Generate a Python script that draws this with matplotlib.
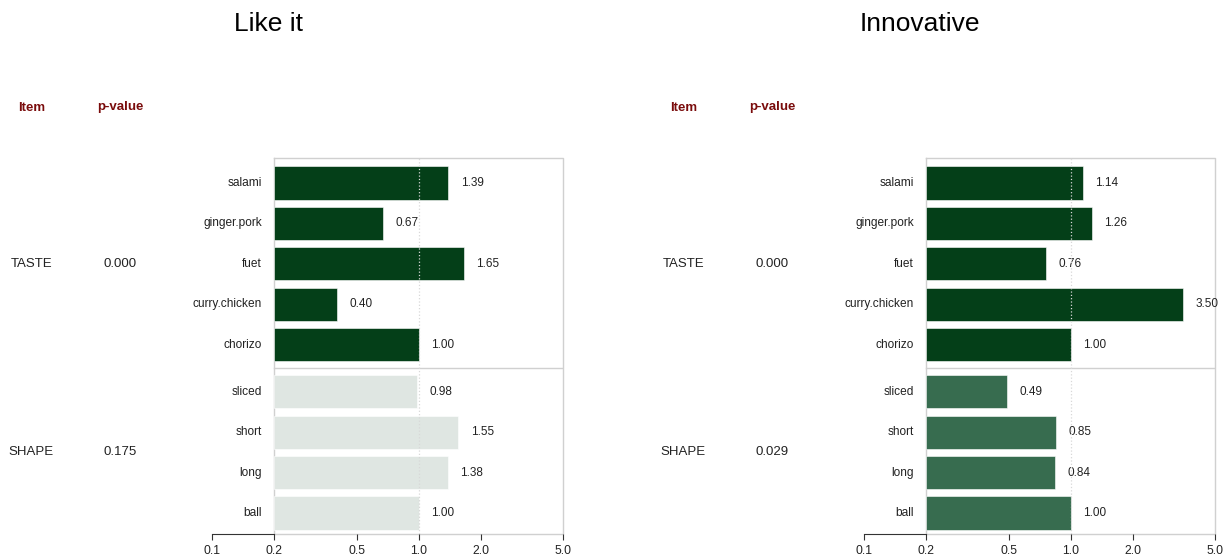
import matplotlib
matplotlib.use("Agg")
import matplotlib.pyplot as plt
from matplotlib.transforms import blended_transform_factory

plt.rcParams['font.family'] = ['Liberation Sans', 'DejaVu Sans']

# items per attribute group
groups = ['TASTE', 'SHAPE']
taste_items = ['salami', 'ginger.pork', 'fuet', 'curry.chicken', 'chorizo']
shape_items = ['sliced', 'short', 'long', 'ball']

# odds ratios, one panel per response
like_taste = [1.39, 0.67, 1.65, 0.40, 1.00]
like_shape = [0.98, 1.55, 1.38, 1.00]
innov_taste = [1.14, 1.26, 0.76, 3.50, 1.00]
innov_shape = [0.49, 0.85, 0.84, 1.00]

like_p = ['0.000', '0.175']
innov_p = ['0.000', '0.029']

xticks = [0.1, 0.2, 0.5, 1.0, 2.0, 5.0]

W, H = 1227, 558
DARK = '#043f18'
MID = '#376c4f'
LIGHT = '#dfe6e2'
RED = '#7a0c0c'
TXT = '#222222'
BOX = '#d0d0d0'

fig = plt.figure(figsize=(W / 100, H / 100), dpi=100)


def panel(x0, title, taste, shape, pvals, colors):
    # x0 = pixel position of 0.1 on the log axis
    ax = fig.add_axes([x0 / W, (H - 534) / H, 351 / W, 376 / H])
    gap = 0.17
    y_t = list(range(len(taste)))
    y_s = [len(taste) + gap + j for j in range(len(shape))]
    sep = len(taste) - 0.5 + gap / 2
    ytop, ybot = -0.62, y_s[-1] + 0.52

    for ys, vals, col in [(y_t, taste, colors[0]), (y_s, shape, colors[1])]:
        ax.barh(ys, [v - 0.2 for v in vals], left=0.2, height=0.82,
                color=col, edgecolor='white', linewidth=0.4, zorder=2)
        for y, v in zip(ys, vals):
            ax.annotate(f'{v:.2f}', (v, y), xytext=(9, 0), textcoords='offset points',
                        va='center', ha='left', fontsize=8.5, color=TXT)

    # item names sit just left of the bar origin
    for y, name in zip(y_t + y_s, taste_items + shape_items):
        ax.annotate(name, (0.2, y), xytext=(-9, 0), textcoords='offset points',
                    va='center', ha='right', fontsize=8.6, color=TXT)

    ax.set_xscale('log')
    ax.set_xlim(0.1, 5.0)
    ax.set_ylim(ybot, ytop)

    # frame around the bars, starting at 0.2
    ax.plot([0.2, 5.0, 5.0, 0.2, 0.2], [ytop, ytop, ybot, ybot, ytop],
            color=BOX, lw=1, clip_on=False, zorder=1)
    ax.plot([0.2, 5.0], [sep, sep], color=BOX, lw=1, zorder=1)
    ax.axvline(1.0, color='#d8d8d8', ls=':', lw=0.9, zorder=3)

    for s in ['top', 'right', 'left']:
        ax.spines[s].set_visible(False)
    ax.spines['bottom'].set_bounds(0.1, 0.2)
    ax.spines['bottom'].set_color('#333333')
    ax.set_xticks(xticks)
    ax.set_xticklabels([f'{t:.1f}' for t in xticks])
    ax.xaxis.set_minor_locator(matplotlib.ticker.NullLocator())
    ax.tick_params(axis='x', direction='out', length=4, color='#333333',
                   labelsize=8.8, labelcolor=TXT, pad=4)
    ax.set_yticks([])
    ax.set_facecolor('none')

    # group names and p-values to the left
    item_x = x0 - 181
    p_x = x0 - 92
    tr = blended_transform_factory(fig.transFigure, ax.transData)
    for g, ys, p in [(groups[0], y_t, pvals[0]), (groups[1], y_s, pvals[1])]:
        ym = sum(ys) / len(ys)
        ax.text(item_x / W, ym, g, transform=tr, ha='center', va='center',
                fontsize=9.5, color=TXT)
        ax.text(p_x / W, ym, p, transform=tr, ha='center', va='center',
                fontsize=9.5, color=TXT)

    fig.text(item_x / W, 1 - 108 / H, 'Item', ha='center', va='center',
             fontsize=9.5, fontweight='bold', color=RED)
    fig.text(p_x / W, 1 - 107 / H, 'p-value', ha='center', va='center',
             fontsize=9.5, fontweight='bold', color=RED)
    fig.text((x0 + 56) / W, 1 - 24 / H, title, ha='center', va='center',
             fontsize=19, color='black')


panel(212.3, 'Like it', like_taste, like_shape, like_p, [DARK, LIGHT])
panel(864.3, 'Innovative', innov_taste, innov_shape, innov_p, [DARK, MID])

fig.savefig('out.png', dpi=100)
